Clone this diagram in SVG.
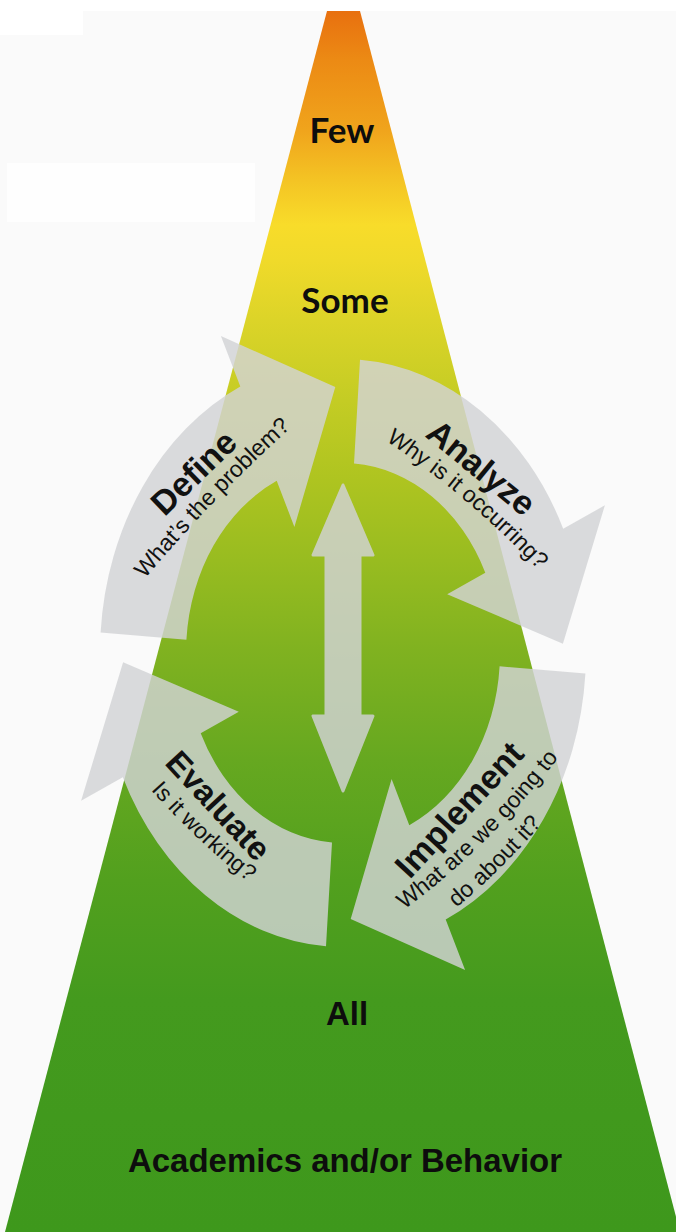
<svg xmlns="http://www.w3.org/2000/svg" width="676" height="1232" viewBox="0 0 676 1232">
<style>
.arrow{fill:#d2d3d6;fill-opacity:0.82}
.title{font-family:"Liberation Sans",Arial,sans-serif;font-weight:700;fill:#111;text-anchor:middle}
.sub{font-family:"Liberation Sans",Arial,sans-serif;font-size:23px;fill:#111}
.lvl{font-family:Lato,"Open Sans",sans-serif;font-weight:700;font-size:35px;fill:#0d0d0d;text-anchor:middle}
.base{font-family:"Liberation Sans",Arial,sans-serif;font-weight:700;font-size:33px;fill:#0d0d0d;text-anchor:middle}
</style>
<defs>
<linearGradient id="tri" gradientUnits="userSpaceOnUse" x1="0" y1="11" x2="0" y2="1232">
<stop offset="0" stop-color="#e8700f"/>
<stop offset="0.04" stop-color="#ec8a14"/>
<stop offset="0.0975" stop-color="#f0a41c"/>
<stop offset="0.139" stop-color="#f4c424"/>
<stop offset="0.175" stop-color="#f8dc2a"/>
<stop offset="0.204" stop-color="#f0da2a"/>
<stop offset="0.253" stop-color="#dcd428"/>
<stop offset="0.319" stop-color="#c4cc24"/>
<stop offset="0.384" stop-color="#aec420"/>
<stop offset="0.45" stop-color="#98bc20"/>
<stop offset="0.523" stop-color="#80b220"/>
<stop offset="0.613" stop-color="#66a820"/>
<stop offset="0.712" stop-color="#52a01e"/>
<stop offset="0.81" stop-color="#449a1e"/>
<stop offset="1" stop-color="#3e981c"/>
</linearGradient>
<path id="cyc-arrow" d="M -242.4,-17.0 A 243 243 0 0 1 -102.7,-220.2 L -122.1,-261.9 L -7.7,-219.9 L -48.6,-104.2 L -66.3,-142.3 A 157 157 0 0 0 -156.6,-11.0 Z"/>
<path id="p-def" d="M132.3,594.1 A1500,1500 0 0 1 305.6,414.5"/>
<path id="p-ana" d="M364.8,427 A900,900 0 0 1 555.5,588.3"/>
<path id="p-imp1" d="M391.4,919.3 A800,800 0 0 0 568.2,744.5"/>
<path id="p-imp2" d="M441,920.5 A800,800 0 0 0 555,808.4"/>
<path id="p-eva" d="M129.5,765 A800,800 0 0 0 274.4,902"/>
</defs>

<rect x="0" y="0" width="676" height="1232" fill="#fafafa"/>
<rect x="0" y="0" width="676" height="11" fill="#ffffff"/>
<rect x="0" y="0" width="83" height="35" fill="#ffffff"/>
<rect x="7" y="163" width="248" height="59" fill="#fefefe"/>

<g id="pyramid">
<polygon points="327,11 360,11 680,1232 5,1232" fill="url(#tri)"/>
</g>

<g id="level-few"><text class="lvl" x="342" y="143">Few</text></g>
<g id="level-some"><text class="lvl" x="345" y="313">Some</text></g>
<g id="level-all"><text class="base" x="347" y="1025">All</text></g>
<g id="level-base"><text class="base" x="345" y="1172" textLength="434" lengthAdjust="spacingAndGlyphs">Academics and/or Behavior</text></g>

<g id="connectors" opacity="0.82">
<polygon points="343,485 373,555 360,555 360,716 373,716 343,791 313,716 326,716 326,555 313,555" fill="#d2d3d6" stroke="#d2d3d6" stroke-width="3" stroke-linejoin="round"/>
</g>

<g id="define">
<use href="#cyc-arrow" class="arrow" transform="translate(343,653) scale(1,1.21)"/>
<text class="title" font-size="34" transform="translate(193.5,472.5) rotate(-44)" dy="0.35em">Define</text>
<text class="sub"><textPath href="#p-def" startOffset="50%" text-anchor="middle">What’s the problem?</textPath></text>
</g>

<g id="analyze">
<use href="#cyc-arrow" class="arrow" transform="translate(343,653) scale(1,1.21) rotate(90)"/>
<text class="title" font-size="34" transform="translate(481.5,467.5) rotate(39.3)" dy="0.35em">Analyze</text>
<text class="sub"><textPath href="#p-ana" startOffset="50%" text-anchor="middle">Why is it occurring?</textPath></text>
</g>

<g id="implement">
<use href="#cyc-arrow" class="arrow" transform="translate(343,653) scale(1,1.21) rotate(180)"/>
<text class="title" font-size="34" transform="translate(459,809.5) rotate(-47.1)" dy="0.35em">Implement</text>
<text class="sub"><textPath href="#p-imp1" startOffset="50%" text-anchor="middle">What are we going to</textPath></text>
<text class="sub"><textPath href="#p-imp2" startOffset="50%" text-anchor="middle">do about it?</textPath></text>
</g>

<g id="evaluate">
<use href="#cyc-arrow" class="arrow" transform="translate(343,653) scale(1,1.21) rotate(270)"/>
<text class="title" font-size="33" transform="translate(218.5,805.5) rotate(47)" dy="0.35em">Evaluate</text>
<text class="sub"><textPath href="#p-eva" startOffset="50%" text-anchor="middle">Is it working?</textPath></text>
</g>
</svg>
